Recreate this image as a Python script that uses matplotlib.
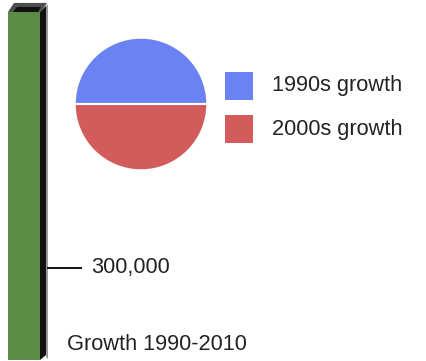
import matplotlib
matplotlib.use("Agg")
import matplotlib.pyplot as plt
from matplotlib.patches import Polygon, Rectangle

# ---- data ----
bar_label = "Growth 1990-2010"
bar_total = 1135000
tick_values = [300000]
tick_labels = ["300,000"]
pie_labels = ["1990s growth", "2000s growth"]
pie_values = [50, 50]
pie_colors = ["#6a82f2", "#d25b5b"]
bar_color = "#5a8c44"

plt.rcParams['font.family'] = ['Liberation Sans', 'DejaVu Sans']
FS = 15.7
TXT = "#222222"

W, H = 426, 361
fig = plt.figure(figsize=(W / 100, H / 100), dpi=100)
fig.patch.set_facecolor("white")

# bar axes: x in pixel units, y in value units
k = 300000 / 92.0  # value per pixel
ax = fig.add_axes([0, 0, 1, 1])
ax.set_xlim(0, W)
ax.set_ylim(-1 * k, 360 * k)
ax.axis("off")

def v(py):
    return (360 - py) * k

bx0, bx1 = 8, 40
ax.bar([(bx0 + bx1) / 2], [bar_total], width=bx1 - bx0, color=bar_color,
       edgecolor="none", zorder=2)
top = bar_total
# 3D side
ax.add_patch(Polygon([(bx1, 0), (bx1, top), (bx1 + 6, top + 6 * k),
                      (bx1 + 6, v(355))], closed=True, facecolor="#111111",
                     edgecolor="none", zorder=3))
ax.add_patch(Polygon([(bx1 + 6, v(357)), (bx1 + 6, top + 6 * k), (bx1 + 8, top + 8 * k),
                      (bx1 + 8, v(359))], closed=True, facecolor="#9a9a9a",
                     edgecolor="none", zorder=1))
# cap
ax.add_patch(Polygon([(bx0, top), (bx0 + 6, top + 9 * k), (bx1 + 7, top + 9 * k),
                      (bx1 + 1, top)], closed=True, facecolor="#4d4d4d",
                     edgecolor="none", zorder=3))
ax.add_patch(Polygon([(bx0 + 5, top), (bx0 + 9, top + 5 * k), (bx1 + 1, top + 5 * k),
                      (bx1 - 2, top)], closed=True, facecolor="#111111",
                     edgecolor="none", zorder=4))

# tick
for tv, tl in zip(tick_values, tick_labels):
    ax.plot([bx1 + 7, 82], [tv, tv], color="#111111", lw=1.4, zorder=3,
            solid_capstyle="butt")
    ax.text(91, tv, tl, fontsize=FS, color=TXT, va="center", ha="left")

# title
ax.text(67, v(345), bar_label, fontsize=FS, color=TXT, va="center", ha="left")

# pie
cx, cy, r = 141, 104, 67
pax = fig.add_axes([(cx - r) / W, (H - cy - r) / H, 2 * r / W, 2 * r / H])
pax.pie(pie_values, colors=pie_colors, startangle=0, counterclock=True,
        wedgeprops=dict(edgecolor="white", linewidth=1.5))
pax.set_xlim(-1.01, 1.01)
pax.set_ylim(-1.01, 1.01)
pax.set_aspect("equal")
pax.axis("off")

# legend (pixel overlay)
lax = fig.add_axes([0, 0, 1, 1], zorder=5)
lax.set_xlim(0, W)
lax.set_ylim(H, 0)
lax.axis("off")
row_y = [72, 115]
for i, (c, l) in enumerate(zip(pie_colors, pie_labels)):
    lax.add_patch(Rectangle((225, row_y[i]), 27.5, 27.5, facecolor=c,
                            edgecolor="none"))
    lax.text(272, row_y[i] + 14, l, fontsize=FS, color=TXT, va="center",
             ha="left")

fig.savefig("out.png", dpi=100, facecolor="white")
